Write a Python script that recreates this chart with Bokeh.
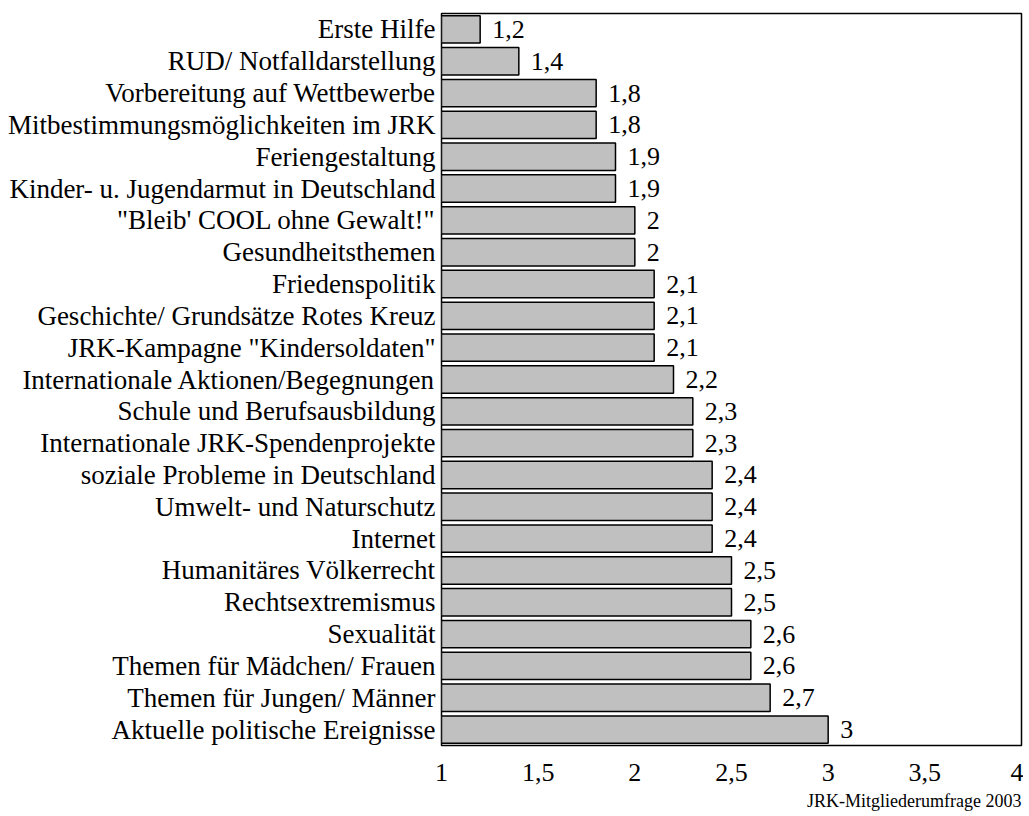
from bokeh.plotting import figure
from bokeh.models import ColumnDataSource, FixedTicker, Title
from bokeh.core.properties import value
from bokeh.embed import file_html
from bokeh.resources import INLINE

categories = [
    "Erste Hilfe",
    "RUD/ Notfalldarstellung",
    "Vorbereitung auf Wettbewerbe",
    "Mitbestimmungsmöglichkeiten im JRK",
    "Feriengestaltung",
    "Kinder- u. Jugendarmut in Deutschland",
    "\"Bleib' COOL ohne Gewalt!\"",
    "Gesundheitsthemen",
    "Friedenspolitik",
    "Geschichte/ Grundsätze Rotes Kreuz",
    "JRK-Kampagne \"Kindersoldaten\"",
    "Internationale Aktionen/Begegnungen",
    "Schule und Berufsausbildung",
    "Internationale JRK-Spendenprojekte",
    "soziale Probleme in Deutschland",
    "Umwelt- und Naturschutz",
    "Internet",
    "Humanitäres Völkerrecht",
    "Rechtsextremismus",
    "Sexualität",
    "Themen für Mädchen/ Frauen",
    "Themen für Jungen/ Männer",
    "Aktuelle politische Ereignisse",
]
values = [1.2, 1.4, 1.8, 1.8, 1.9, 1.9, 2.0, 2.0, 2.1, 2.1, 2.1, 2.2, 2.3, 2.3,
          2.4, 2.4, 2.4, 2.5, 2.5, 2.6, 2.6, 2.7, 3.0]
tick_values = [1, 1.5, 2, 2.5, 3, 3.5, 4]
tick_labels = ["1", "1,5", "2", "2,5", "3", "3,5", "4"]
footer = "JRK-Mitgliederumfrage 2003"


def fmt(v):
    s = ("%.1f" % v).replace(".", ",")
    return s[:-2] if s.endswith(",0") else s


src = ColumnDataSource(dict(
    cat=categories,
    val=values,
    left=[1] * len(values),
    lab=[fmt(v) for v in values],
))

FONT = "Liberation Serif"
FS = "26px"

p = figure(
    width=1023, height=816,
    y_range=list(reversed(categories)),
    x_range=(1, 4),
    output_backend="svg", toolbar_location=None,
    min_border_left=441, min_border_right=2,
    min_border_top=13, min_border_bottom=71,
)
p.y_range.range_padding = 0.0

p.hbar(y="cat", left="left", right="val", height=0.86, source=src,
       fill_color="#c0c0c0", line_color="black", line_width=1.5)
p.text(x="val", y="cat", text="lab", source=src, x_offset=12,
       text_baseline="middle", text_align="left",
       text_font=value(FONT), text_font_size=FS, text_color="black")

p.xgrid.visible = False
p.ygrid.visible = False
p.outline_line_color = "black"
p.outline_line_width = 1.5

p.xaxis.ticker = FixedTicker(ticks=tick_values)
p.xaxis.major_label_overrides = {t: l for t, l in zip(tick_values, tick_labels)}
p.xaxis.major_tick_line_color = None
p.xaxis.minor_tick_line_color = None
p.xaxis.axis_line_color = None
p.xaxis.major_label_standoff = 12
p.xaxis.major_label_text_font = FONT
p.xaxis.major_label_text_font_size = FS
p.xaxis.major_label_text_color = "black"

p.yaxis.major_tick_line_color = None
p.yaxis.minor_tick_line_color = None
p.yaxis.axis_line_color = None
p.yaxis.major_label_standoff = 0
p.yaxis.major_label_text_font = FONT
p.yaxis.major_label_text_font_size = "27px"
p.yaxis.major_label_text_color = "black"

p.add_layout(Title(text=footer, align="right", text_font=FONT,
                   text_font_size="18px", text_font_style="normal",
                   text_color="black", standoff=10), "below")

open("out.html", "w").write(file_html(p, INLINE))
